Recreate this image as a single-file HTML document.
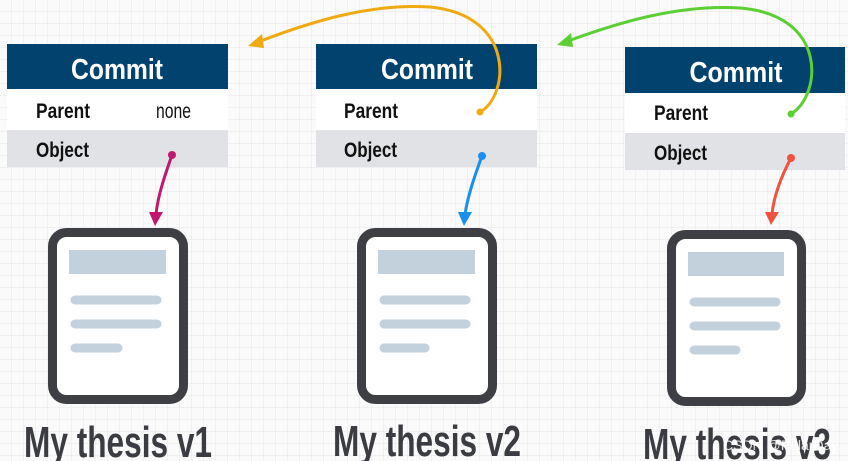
<!DOCTYPE html>
<html><head><meta charset="utf-8"><style>
html,body{margin:0;padding:0;background:#fff}
svg{display:block}
.h{font-family:"Liberation Sans Narrow","Liberation Sans",sans-serif;font-weight:bold}
</style></head><body>
<svg width="848" height="461" viewBox="0 0 848 461" xmlns="http://www.w3.org/2000/svg">
<defs>
<pattern id="g" width="12" height="12" patternUnits="userSpaceOnUse">
<path d="M12 0V12M0 12H12" fill="none" stroke="#e6e6e6" stroke-width="1"/>
</pattern>
</defs>
<rect width="848" height="461" fill="#fafafa"/>
<rect width="848" height="461" fill="url(#g)"/>

<!-- Box 1 -->
<rect x="7" y="44" width="221" height="45" fill="#02426e"/>
<rect x="7" y="89" width="221" height="41" fill="#fff"/>
<rect x="7" y="130" width="221" height="37" fill="#e1e2e5"/>
<text class="h" x="117" y="79" fill="#fff" font-size="29" text-anchor="middle" textLength="92" lengthAdjust="spacingAndGlyphs">Commit</text>
<text class="h" x="36" y="118" fill="#111" font-size="21" textLength="54" lengthAdjust="spacingAndGlyphs">Parent</text>
<text x="156" y="118" fill="#111" font-size="21" font-family="Liberation Sans Narrow,Liberation Sans,sans-serif" textLength="35" lengthAdjust="spacingAndGlyphs">none</text>
<text class="h" x="36" y="157" fill="#111" font-size="21" textLength="53" lengthAdjust="spacingAndGlyphs">Object</text>

<!-- Box 2 -->
<rect x="316" y="44" width="221" height="45" fill="#02426e"/>
<rect x="316" y="89" width="221" height="41" fill="#fff"/>
<rect x="316" y="130" width="221" height="37" fill="#e1e2e5"/>
<text class="h" x="427" y="79" fill="#fff" font-size="29" text-anchor="middle" textLength="92" lengthAdjust="spacingAndGlyphs">Commit</text>
<text class="h" x="344" y="118" fill="#111" font-size="21" textLength="54" lengthAdjust="spacingAndGlyphs">Parent</text>
<text class="h" x="344" y="157" fill="#111" font-size="21" textLength="53" lengthAdjust="spacingAndGlyphs">Object</text>

<!-- Box 3 -->
<rect x="625" y="47" width="220" height="46" fill="#02426e"/>
<rect x="625" y="93" width="220" height="40" fill="#fff"/>
<rect x="625" y="133" width="220" height="37" fill="#e1e2e5"/>
<text class="h" x="736" y="82" fill="#fff" font-size="29" text-anchor="middle" textLength="93" lengthAdjust="spacingAndGlyphs">Commit</text>
<text class="h" x="654" y="120" fill="#111" font-size="21" textLength="54" lengthAdjust="spacingAndGlyphs">Parent</text>
<text class="h" x="654" y="160" fill="#111" font-size="21" textLength="53" lengthAdjust="spacingAndGlyphs">Object</text>

<!-- Documents -->
<g fill="#fff" stroke="#3d3f44" stroke-width="9">
<rect x="52.5" y="232.5" width="131" height="167" rx="14"/>
<rect x="361.5" y="232.5" width="131" height="167" rx="14"/>
<rect x="671.5" y="234.5" width="130" height="167" rx="14"/>
</g>
<g fill="#c3d1dc">
<rect x="69" y="250" width="97" height="24"/>
<rect x="378" y="250" width="97" height="24"/>
<rect x="688" y="252" width="96" height="24"/>
</g>
<g stroke="#c3d1dc" stroke-width="9" stroke-linecap="round">
<path d="M75 300H157M75 324H157M75 348H118"/>
<path d="M384 300H466M384 324H466M384 348H425"/>
<path d="M694 302H776M694 326H776M694 350H736"/>
</g>

<!-- Labels -->
<g class="h" fill="#3a3c41" font-size="44">
<text x="24" y="457" textLength="188" lengthAdjust="spacingAndGlyphs">My thesis v1</text>
<text x="333" y="456" textLength="188" lengthAdjust="spacingAndGlyphs">My thesis v2</text>
<text x="643" y="459" textLength="188" lengthAdjust="spacingAndGlyphs">My thesis v3</text>
</g>
<text x="723" y="450" fill="#fff" fill-opacity="0.85" font-size="14" font-family="Liberation Sans,sans-serif">CSDN @PolarDay.</text>

<!-- Object arrows -->
<g fill="none" stroke-width="3">
<path d="M172 155 C165 175 158 195 156 214" stroke="#c0186e"/>
<path d="M482 156 C475 175 468 195 465 214" stroke="#1a8fef"/>
<path d="M791 158 C782 175 774 195 772 214" stroke="#ef5340"/>
</g>
<circle cx="172" cy="155" r="4" fill="#c0186e"/>
<circle cx="482" cy="156" r="4" fill="#1a8fef"/>
<circle cx="791" cy="158" r="4" fill="#ef5340"/>
<path d="M149 212 L163 212 L155 226Z" fill="#c0186e"/>
<path d="M458 212 L472 212 L464 226Z" fill="#1a8fef"/>
<path d="M765 212 L779 212 L771 225Z" fill="#ef5340"/>

<!-- Parent arrows -->
<path d="M480 112 C510 95 515 15 430 7 C370 3 310 22 258 42" fill="none" stroke="#f0aa12" stroke-width="3"/>
<circle cx="480" cy="112" r="3.5" fill="#f0aa12"/>
<path d="M248 46 L262 34 L264 48Z" fill="#f0aa12"/>
<path d="M791 114 C822 95 828 15 740 8 C680 4 620 22 568 41" fill="none" stroke="#5ccf34" stroke-width="3"/>
<circle cx="791" cy="114" r="3.5" fill="#5ccf34"/>
<path d="M557 45 L571 33 L573 47Z" fill="#5ccf34"/>
</svg>
</body></html>
